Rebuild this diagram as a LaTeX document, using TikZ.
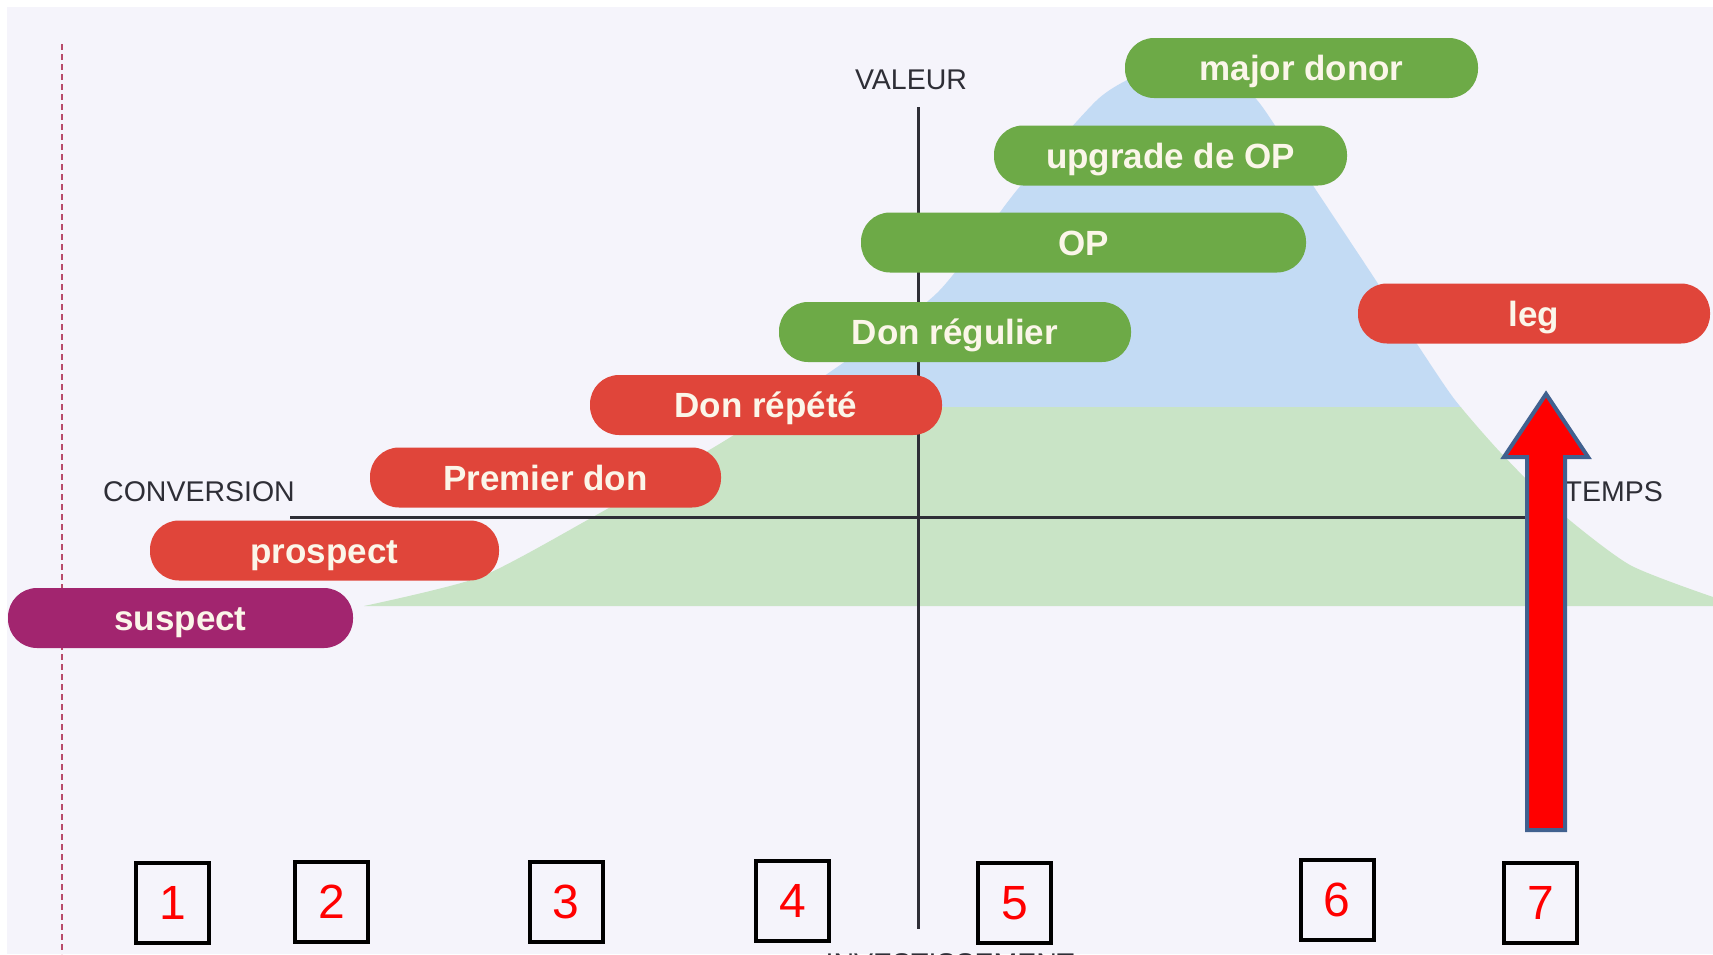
\documentclass[tikz,border=0pt]{standalone}
\usepackage{fontspec}
\setmainfont{Liberation Sans}
\definecolor{bg}{HTML}{F5F4FB}
\definecolor{mblue}{HTML}{C3DBF4}
\definecolor{mgreen}{HTML}{C9E4C6}
\definecolor{pgreen}{HTML}{6DAA47}
\definecolor{pred}{HTML}{E0453A}
\definecolor{ppurple}{HTML}{A2256F}
\definecolor{ptext}{HTML}{FBF6E9}
\definecolor{axiscol}{HTML}{2E2E36}
\definecolor{dashcol}{HTML}{B84A6A}
\definecolor{arrowedge}{HTML}{41618F}
\tikzset{
  pill/.style={rounded corners=29pt, minimum height=60pt, inner sep=0pt,
    text=ptext, font=\fontsize{35}{40}\selectfont\bfseries, text height=25pt, text depth=0pt},
  axislabel/.style={inner sep=0pt, text=axiscol, font=\fontsize{28.5}{32}\selectfont},
  numbox/.style={draw=black, line width=4pt, minimum width=73pt, minimum height=80pt,
    inner sep=0pt, text=red, font=\fontsize{48}{48}\selectfont},
  axisline/.style={draw=axiscol, line width=3pt},
}
\def\mountainpts{(364,606) (480,577) (591,518) (721,443) (830,372) (937,293) (1017,190) (1097,100) (1140,74) (1175,66) (1215,76) (1257,100) (1314,187) (1371,273) (1421,350) (1455,400) (1500,452) (1560,512) (1630,565) (1713,597)}
\begin{document}
\begin{tikzpicture}[x=1pt,y=-1pt]
\useasboundingbox (0,0) rectangle (1713,954);
\fill[white] (0,0) rectangle (1713,954);
\fill[bg] (7,7) rectangle (1713,954);
% mountain
\begin{scope}
\clip (0,0) rectangle (1713,407);
\fill[mblue] plot[smooth, tension=0.4] coordinates {\mountainpts} -- (1713,606) -- cycle;
\end{scope}
\begin{scope}
\clip (0,407) rectangle (1713,606);
\fill[mgreen] plot[smooth, tension=0.4] coordinates {\mountainpts} -- (1713,606) -- cycle;
\end{scope}
% dashed line
\coordinate (dtop) at (62,44);
\coordinate (dbot) at (62,954);
\draw[dashcol, line width=2.5pt, dash pattern=on 6pt off 4pt] (dtop) -- (dbot);
% axes
\coordinate (vtop) at (918,107);
\coordinate (vbot) at (918,929);
\coordinate (hleft) at (290,517);
\coordinate (hright) at (1545,517);
\draw[axisline] (vtop) -- (vbot);
\draw[axisline] (hleft) -- (hright);
% pills
\node[pill, fill=pgreen, minimum width=353pt] (major) at (1301.5,68) {major donor};
\node[pill, fill=pgreen, minimum width=353pt] (upgrade) at (1170.5,155.5) {upgrade de OP};
\node[pill, fill=pgreen, minimum width=445pt] (op) at (1083.5,242.5) {OP};
\node[pill, fill=pgreen, minimum width=352pt] (regulier) at (955,332) {Don régulier};
\node[pill, fill=pred, minimum width=352pt] (repete) at (766,405) {Don répété};
\node[pill, fill=pred, minimum width=351pt] (premier) at (545.5,477.5) {Premier don};
\node[pill, fill=pred, minimum width=349pt] (prospect) at (324.5,550.5) {prospect};
\node[pill, fill=ppurple, minimum width=345pt] (suspect) at (180.5,618) {suspect};
\node[pill, fill=pred, minimum width=352pt] (leg) at (1534,313.5) {leg};
% axis labels
\node[axislabel] (conversion) at (199,492) {CONVERSION};
\node[axislabel] (valeur) at (911,80) {VALEUR};
\node[axislabel, anchor=east] (temps) at (1663,492) {TEMPS};
\node[axislabel, anchor=base] (invest) at (950,973) {INVESTISSEMENT};
% big arrow
\draw[fill=red, draw=arrowedge, line width=4pt, line join=miter]
  (1527,830) -- (1527,457) -- (1504,457) -- (1546,394) -- (1588,457) -- (1565,457) -- (1565,830) -- cycle;
% numbered boxes
\node[numbox] (b1) at (172.5,903) {1};
\node[numbox] (b2) at (331.5,902) {2};
\node[numbox] (b3) at (566,902) {3};
\node[numbox] (b4) at (792.5,900.5) {4};
\node[numbox] (b5) at (1014.5,903) {5};
\node[numbox] (b6) at (1337,899.5) {6};
\node[numbox] (b7) at (1540.5,902.5) {7};
\end{tikzpicture}
\end{document}
